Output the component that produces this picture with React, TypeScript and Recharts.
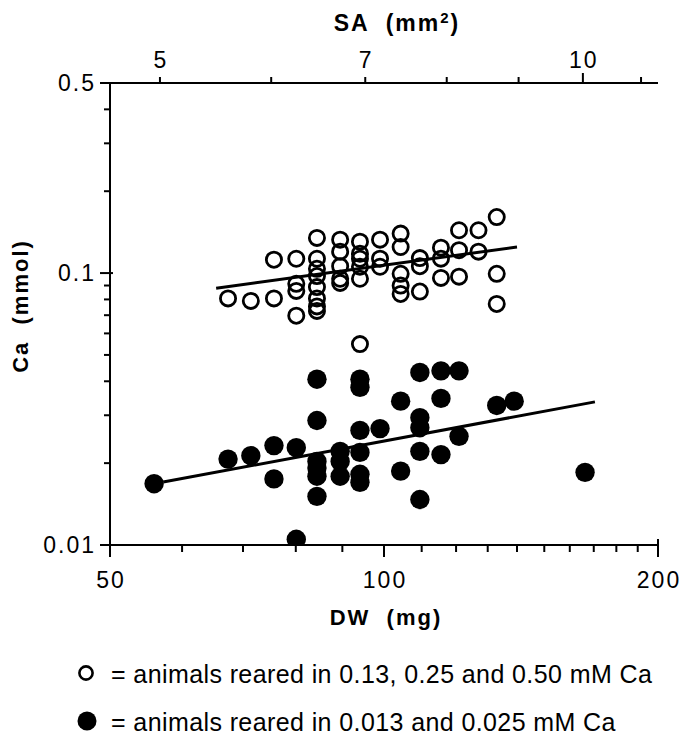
import React from 'react';
import { ScatterChart, Scatter, XAxis, YAxis } from 'recharts';

// DW (mg), Ca (mmol) — animals reared in 0.13, 0.25 and 0.50 mM Ca
const openDW = [67.4, 71.4, 75.7, 75.7, 80.1, 80.1, 80.1, 80.1, 84.4, 84.4, 84.4, 84.4, 84.4, 84.4, 84.4, 84.4, 89.5, 89.5, 89.5, 89.5, 89.5, 94.1, 94.1, 94.1, 94.1, 94.1, 99.0, 99.0, 99.0, 104.3, 104.3, 104.3, 104.3, 104.3, 109.5, 109.5, 109.5, 115.5, 115.5, 115.5, 120.9, 120.9, 120.9, 127.0, 127.0, 133.0, 133.0, 133.0, 94.1];
const openCa = [0.0807, 0.079, 0.0807, 0.112, 0.1129, 0.0913, 0.086, 0.0697, 0.1347, 0.1129, 0.1037, 0.0975, 0.0888, 0.0807, 0.0754, 0.0726, 0.1327, 0.1199, 0.106, 0.0953, 0.092, 0.1305, 0.1178, 0.1129, 0.1055, 0.0953, 0.1327, 0.113, 0.1055, 0.1397, 0.1247, 0.0994, 0.09, 0.0838, 0.1135, 0.106, 0.0855, 0.124, 0.113, 0.096, 0.1437, 0.1214, 0.097, 0.1437, 0.1199, 0.1607, 0.0994, 0.077, 0.0548];

// animals reared in 0.013 and 0.025 mM Ca
const filledDW = [55.9, 67.4, 71.4, 75.7, 75.7, 80.1, 80.1, 84.4, 84.4, 84.4, 84.4, 84.4, 84.4, 89.5, 89.5, 89.5, 94.1, 94.1, 94.1, 94.1, 94.1, 94.1, 99.0, 104.3, 104.3, 109.5, 109.5, 109.5, 109.5, 109.5, 115.5, 115.5, 115.5, 120.9, 120.9, 133.0, 139.0, 166.3];
const filledCa = [0.0168, 0.0207, 0.0213, 0.0232, 0.0175, 0.0228, 0.0105, 0.0407, 0.0287, 0.0203, 0.0192, 0.0179, 0.0151, 0.0221, 0.0203, 0.0179, 0.0407, 0.038, 0.0264, 0.0219, 0.0182, 0.017, 0.0268, 0.0338, 0.0187, 0.0431, 0.0294, 0.027, 0.0221, 0.0147, 0.0437, 0.0346, 0.0215, 0.0437, 0.0251, 0.0326, 0.0338, 0.0185];

// regression lines (end points)
const openFitDW = [65.4, 140.0];
const openFitCa = [0.088, 0.1247];
const filledFitDW = [57.2, 170.5];
const filledFitCa = [0.01704, 0.0336];

const dwTicks = [50, 60, 70, 80, 90, 100, 110, 120, 130, 140, 150, 160, 170, 180, 190, 200];
const dwLabels = [50, 100, 200];
const saTicks = [5, 6, 7, 8, 9, 10, 11];
const saLabels = [5, 7, 10];
const caTicks = [0.01, 0.02, 0.03, 0.04, 0.05, 0.06, 0.07, 0.08, 0.09, 0.1, 0.2, 0.3, 0.4, 0.5];
const caLabels = [0.01, 0.1, 0.5];

const legendItems = [
  { filled: false, label: '= animals reared in 0.13, 0.25 and 0.50 mM Ca' },
  { filled: true, label: '= animals reared in 0.013 and 0.025 mM Ca' },
];

const zip = (xs: number[], ys: number[]) => xs.map((x, i) => ({ dw: x, ca: ys[i] }));
const openData = zip(openDW, openCa);
const filledData = zip(filledDW, filledCa);
const openFit = zip(openFitDW, openFitCa);
const filledFit = zip(filledFitDW, filledFitCa);

const FONT = '"Liberation Sans", Arial, Helvetica, sans-serif';
const labelStyle: React.CSSProperties = { fontFamily: FONT, fontSize: 23, letterSpacing: 2 };
const titleStyle: React.CSSProperties = { fontFamily: FONT, fontSize: 22, fontWeight: 700, letterSpacing: 2, whiteSpace: 'pre' };

const isIn = (labels: number[], v: number) => labels.some((l) => Math.abs(l - v) < 1e-9);

const BottomTick = (p: any) => {
  const v = p.payload.value;
  const major = isIn(dwLabels, v);
  return (
    <g>
      <line x1={p.x} x2={p.x} y1={p.y - (v === 200 ? 6 : 0)} y2={p.y + (major ? 12 : 7)} stroke="#000" strokeWidth={2} />
      {major && (
        <text x={p.x + 1} y={p.y + 43} textAnchor="middle" style={labelStyle}>
          {String(v)}
        </text>
      )}
    </g>
  );
};

const TopTick = (p: any) => {
  const v = p.payload.value;
  const major = isIn(saLabels, v);
  return (
    <g>
      <line x1={p.x} x2={p.x} y1={p.y} y2={p.y - (v === 10 ? 10 : 6)} stroke="#000" strokeWidth={2} />
      {major && (
        <text x={p.x + 1} y={p.y - 15} textAnchor="middle" style={labelStyle}>
          {String(v)}
        </text>
      )}
    </g>
  );
};

const LeftTick = (p: any) => {
  const v = p.payload.value;
  const major = isIn(caLabels, v);
  return (
    <g>
      <line x1={p.x - (major ? 10 : 6)} x2={p.x + (major ? 3 : 0)} y1={p.y} y2={p.y} stroke="#000" strokeWidth={2} />
      {major && (
        <text x={p.x - 14} y={p.y + 8} textAnchor="end" style={labelStyle}>
          {String(v)}
        </text>
      )}
    </g>
  );
};

const OpenDot = (p: any) => (
  <circle cx={p.cx} cy={p.cy} r={7.6} fill="none" stroke="#000" strokeWidth={2.8} />
);
const FilledDot = (p: any) => <circle cx={p.cx} cy={p.cy} r={9.7} fill="#000" />;
const NoDot = () => <g />;

export default function App() {
  return (
    <div style={{ position: 'absolute', left: 0, top: 0, width: 680, height: 740, background: '#fff' }}>
      <ScatterChart width={680} height={740} margin={{ top: 53, right: 22, bottom: 165, left: 50 }}>
        <XAxis
          xAxisId="dw"
          dataKey="dw"
          type="number"
          scale="log"
          domain={[50, 200]}
          allowDataOverflow
          ticks={dwTicks}
          interval={0}
          tick={<BottomTick />}
          tickSize={0}
          tickMargin={0}
          tickLine={false}
          height={30}
          axisLine={{ stroke: '#000', strokeWidth: 2 }}
          label={{
            content: (p: any) => {
              const vb = p.viewBox;
              return (
                <text x={vb.x + vb.width / 2 + 2} y={vb.y + 80} textAnchor="middle" style={titleStyle}>
                  DW  (mg)
                </text>
              );
            },
          }}
        />
        <XAxis
          xAxisId="sa"
          dataKey="sa"
          orientation="top"
          type="number"
          scale="log"
          domain={[4.607, 11.31]}
          allowDataOverflow
          ticks={saTicks}
          interval={0}
          tick={<TopTick />}
          tickSize={0}
          tickMargin={0}
          tickLine={false}
          height={30}
          axisLine={{ stroke: '#000', strokeWidth: 2 }}
          label={{
            content: (p: any) => {
              const vb = p.viewBox;
              return (
                <text x={vb.x + 287} y={31} textAnchor="middle" style={{ ...titleStyle, fontSize: 23 }}>
                  SA  (mm<tspan dy={-8} fontSize={15}>2</tspan><tspan dy={8}>)</tspan>
                </text>
              );
            },
          }}
        />
        <YAxis
          dataKey="ca"
          type="number"
          scale="log"
          domain={[0.01, 0.5]}
          allowDataOverflow
          ticks={caTicks}
          interval={0}
          tick={<LeftTick />}
          tickSize={0}
          tickMargin={0}
          tickLine={false}
          width={60}
          axisLine={{ stroke: '#000', strokeWidth: 2 }}
          label={{
            content: (p: any) => {
              const vb = p.viewBox;
              const cy = vb.y + vb.height / 2 - 8;
              return (
                <text x={28} y={cy} textAnchor="middle" transform={`rotate(-90 28 ${cy})`} style={titleStyle}>
                  Ca  (mmol)
                </text>
              );
            },
          }}
        />
        <Scatter xAxisId="dw" data={openData} shape={OpenDot} isAnimationActive={false} />
        <Scatter xAxisId="dw" data={filledData} shape={FilledDot} isAnimationActive={false} />
        <Scatter xAxisId="dw" data={openFit} shape={NoDot} line={{ stroke: '#000', strokeWidth: 3 }} isAnimationActive={false} />
        <Scatter xAxisId="dw" data={filledFit} shape={NoDot} line={{ stroke: '#000', strokeWidth: 3 }} isAnimationActive={false} />
      </ScatterChart>
      <svg width={680} height={740} style={{ position: 'absolute', left: 0, top: 0, pointerEvents: 'none' }}>
        {legendItems.map((it, i) => {
          const base = 683 + i * 48;
          return (
            <g key={i}>
              {it.filled ? (
                <circle cx={87} cy={base - 10} r={9.5} fill="#000" />
              ) : (
                <circle cx={86} cy={base - 10} r={6.6} fill="none" stroke="#000" strokeWidth={2.6} />
              )}
              <text x={111} y={base} style={{ fontFamily: FONT, fontSize: 25, letterSpacing: 0.4, whiteSpace: 'pre' }}>
                {it.label}
              </text>
            </g>
          );
        })}
      </svg>
    </div>
  );
}
